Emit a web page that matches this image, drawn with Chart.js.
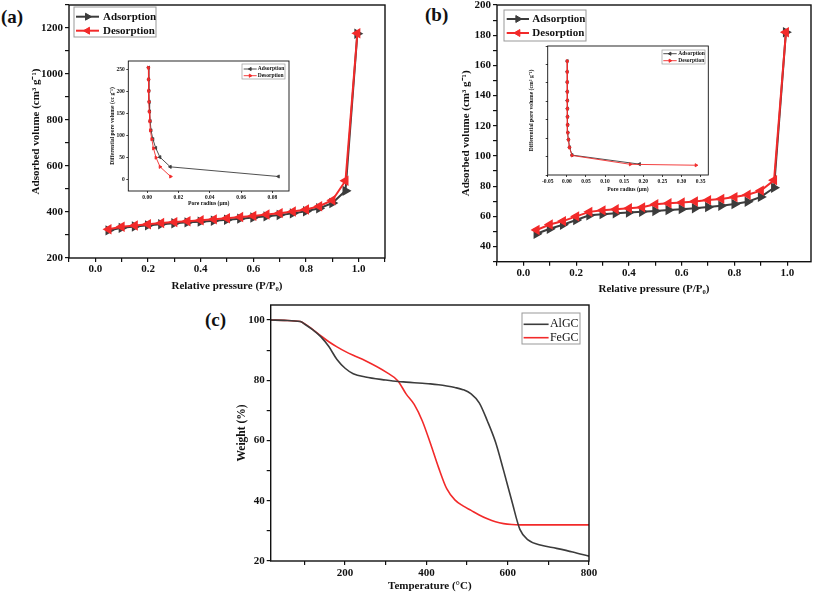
<!DOCTYPE html>
<html>
<head>
<meta charset="utf-8">
<script src="https://cdn.jsdelivr.net/npm/chart.js@4.4.1/dist/chart.umd.min.js"></script>
<style>
  body { margin: 0; background: #fff; width: 817px; height: 593px; position: relative; overflow: hidden; font-family: "Liberation Serif", serif; }
  canvas { position: absolute; }
  .tag { position: absolute; font-weight: bold; font-size: 19px; line-height: 1; color: #111; }
</style>
</head>
<body>
<div class="tag" style="left:1px;top:7px">(a)</div>
<div class="tag" style="left:425px;top:5px">(b)</div>
<div class="tag" style="left:205px;top:310px">(c)</div>

<canvas id="chartA" width="395" height="305" style="left:0;top:-5px"></canvas>
<canvas id="chartB" width="407" height="305" style="left:410px;top:-5px"></canvas>
<canvas id="chartC" width="410" height="298" style="left:190px;top:295px"></canvas>
<canvas id="insetA" width="196" height="162" style="left:100px;top:50px"></canvas>
<canvas id="insetB" width="197" height="160" style="left:518px;top:36px"></canvas>

<script>
// Data: N2 isotherms, panels (a) and (b)
const relPressure = [0.05, 0.10, 0.15, 0.20, 0.25, 0.30, 0.35, 0.40, 0.45, 0.50, 0.55, 0.60, 0.65, 0.70, 0.75, 0.80, 0.85, 0.90, 0.95, 0.995];
const adsorptionA = [320, 331, 337, 342, 347, 351, 355, 358, 362, 366, 371, 376, 381, 387, 394, 403, 416, 439, 492, 1175];
const desorptionA = [325, 336, 341, 347, 352, 356, 360, 364, 368, 373, 378, 383, 389, 395, 402, 411, 425, 451, 536, 1177];
const adsorptionB = [48.5, 51.8, 54.5, 57.6, 60.7, 61.5, 62.1, 62.6, 63.1, 63.6, 64.2, 64.8, 65.4, 66.2, 67.1, 68.2, 69.7, 72.9, 79.0, 182];
const desorptionB = [51.0, 54.6, 56.9, 60.0, 63.0, 64.0, 64.7, 65.4, 66.0, 68.0, 68.7, 69.2, 69.9, 70.8, 71.6, 72.8, 74.3, 77.1, 84.0, 182];

// Data: pore size distribution insets
const poreAdsRadiusA = [0.0009, 0.0010, 0.0012, 0.0014, 0.0016, 0.0020, 0.0025, 0.0037, 0.0055, 0.0082, 0.0148, 0.0838];
const poreAdsVolumeA = [255, 228, 202, 177, 155, 133, 112, 92, 72, 51, 29, 7];
const poreDesRadiusA = [0.0008, 0.0009, 0.0010, 0.0012, 0.0014, 0.0017, 0.0021, 0.0030, 0.0041, 0.0057, 0.0083, 0.0150];
const poreDesVolumeA = [255, 228, 202, 177, 155, 133, 112, 92, 71, 50, 29, 7];
const poreAdsRadiusB = [0.0011, 0.0011, 0.0012, 0.0013, 0.0014, 0.0016, 0.0019, 0.0022, 0.0027, 0.0043, 0.0070, 0.0137, 0.190];
const poreAdsVolumeB = [284, 255, 227, 201, 177, 155, 133, 111, 90, 71, 50, 29, 4.5];
const poreDesRadiusB = [0.0010, 0.0010, 0.0011, 0.0012, 0.0013, 0.0015, 0.0018, 0.0021, 0.0026, 0.0042, 0.0069, 0.0135, 0.166, 0.338];
const poreDesVolumeB = [284, 255, 227, 201, 177, 155, 133, 111, 90, 71, 50, 28, 4, 1.5];

// Data: TGA, panel (c)
const temperature = [17, 50, 90, 100, 120, 140, 160, 180, 200, 220, 250, 300, 330, 350, 370, 390, 410, 430, 450, 470, 490, 510, 530, 550, 570, 590, 610, 630, 650, 680, 720, 760, 800];
const weightAlGC = [100, 99.9, 99.5, 98.7, 96.8, 94.5, 91.2, 86.9, 84.0, 82.2, 81.1, 80.1, 79.6, 79.4, 79.2, 79.0, 78.8, 78.5, 78.1, 77.6, 76.9, 75.5, 72.5, 66.5, 59.5, 50.0, 40.0, 30.5, 27.0, 25.3, 24.2, 23.0, 21.6];
const weightFeGC = [100, 99.9, 99.5, 98.8, 96.9, 94.8, 92.8, 91.1, 89.6, 88.3, 86.5, 82.8, 79.8, 75.5, 72.0, 66.5, 59.0, 51.0, 44.0, 40.3, 38.3, 36.8, 35.3, 34.0, 33.0, 32.4, 32.1, 32.0, 32.0, 32.0, 32.0, 32.0, 32.0];

// Tick labels
const pressureTicks = [0, 0.2, 0.4, 0.6, 0.8, 1.0];
const volumeTicksA = [200, 400, 600, 800, 1000, 1200];
const volumeTicksB = [40, 60, 80, 100, 120, 140, 160, 180, 200];
const radiusTicksA = [0, 0.02, 0.04, 0.06, 0.08];
const poreVolTicksA = [0, 50, 100, 150, 200, 250];
const radiusTicksB = [-0.05, 0, 0.05, 0.10, 0.15, 0.20, 0.25, 0.30, 0.35];
const poreVolTicksB = [0, 50, 100, 150, 200, 250, 300];
const tempTicks = [200, 400, 600, 800];
const weightTicks = [20, 40, 60, 80, 100];

const SERIF = '"Liberation Serif", "Times New Roman", serif';
const INK = '#111';
const GREY = '#3c3c3c';
const RED = '#f22a2a';

// Helpers
function points(xs, ys) {
    return xs.map((x, i) => ({ x: x, y: ys[i] }));
}

function pick(list, digits) {
    return v => {
        const hit = list.find(t => Math.abs(t - v) < 1e-6);
        return hit === undefined ? '' : hit.toFixed(digits);
    };
}

function makeScale(o) {
    return {
        type: 'linear',
        min: o.min,
        max: o.max,
        afterFit: s => { if (s.isHorizontal()) s.height = o.size; else s.width = o.size; },
        border: { display: false },
        grid: { drawOnChartArea: false, drawTicks: true, tickLength: o.tick, lineWidth: o.tickWidth, color: INK },
        ticks: {
            stepSize: o.step, includeBounds: false, autoSkip: false, maxRotation: 0, minRotation: 0,
            padding: o.pad, color: INK,
            font: { family: SERIF, weight: 'bold', size: o.font },
            callback: o.label
        },
        title: {
            display: true, text: o.title, color: INK,
            font: { family: SERIF, weight: 'bold', size: o.titleFont },
            padding: o.titlePad
        }
    };
}

function series(label, data, color, extra) {
    return Object.assign({
        label: label, data: data,
        borderColor: color, backgroundColor: color,
        pointBackgroundColor: color, pointBorderColor: color,
        borderWidth: 2, tension: 0
    }, extra);
}

// Plugins: full box around plot area, and framed legend
const frame = {
    id: 'frame',
    afterDatasetsDraw(chart, args, o) {
        const { ctx, chartArea: a } = chart;
        ctx.save();
        ctx.strokeStyle = INK;
        ctx.lineWidth = o.width || 1;
        ctx.strokeRect(a.left, a.top, a.right - a.left, a.bottom - a.top);
        ctx.restore();
    }
};

const boxLegend = {
    id: 'boxLegend',
    afterDraw(chart, args, o) {
        if (!o.rows) return;
        const { ctx, chartArea: a } = chart;
        const left = o.right !== undefined ? a.right - o.right - o.width : a.left + o.left;
        const top = a.top + o.top;
        ctx.save();
        ctx.fillStyle = '#fff';
        ctx.fillRect(left, top, o.width, o.height);
        ctx.strokeStyle = o.borderColor;
        ctx.lineWidth = o.borderWidth;
        ctx.strokeRect(left, top, o.width, o.height);
        chart.data.datasets.forEach((ds, i) => {
            const y = top + o.rows[i];
            const x0 = left + o.lineX;
            ctx.strokeStyle = ds.borderColor;
            ctx.lineWidth = ds.borderWidth;
            ctx.beginPath();
            ctx.moveTo(x0, y);
            ctx.lineTo(x0 + o.lineLen, y);
            ctx.stroke();
            if (ds.pointRadius) {
                ctx.fillStyle = ds.pointBackgroundColor;
                ctx.strokeStyle = ds.pointBorderColor;
                ctx.lineWidth = 1;
                Chart.helpers.drawPoint(ctx, { pointStyle: ds.pointStyle, rotation: ds.pointRotation, radius: ds.pointRadius, borderWidth: 1 }, x0 + o.lineLen / 2, y);
            }
            ctx.fillStyle = INK;
            ctx.font = o.font;
            ctx.textBaseline = 'middle';
            ctx.textAlign = o.align || 'left';
            ctx.fillText(ds.label, left + o.textX, y);
        });
        ctx.restore();
    }
};

Chart.register(frame, boxLegend);

function baseOptions(padding, scales, legend, frameWidth) {
    return {
        responsive: false,
        animation: false,
        layout: { padding: padding },
        scales: scales,
        plugins: {
            legend: { display: false },
            tooltip: { enabled: false },
            frame: { width: frameWidth },
            boxLegend: legend
        }
    };
}

// Panel (a)
new Chart(document.getElementById('chartA'), {
    type: 'line',
    data: {
        datasets: [
            series('Adsorption', points(relPressure, adsorptionA), GREY, { pointStyle: 'triangle', pointRotation: 90, pointRadius: 4, pointHoverRadius: 4, order: 1 }),
            series('Desorption', points(relPressure, desorptionA), RED, { pointStyle: 'triangle', pointRotation: -90, pointRadius: 4, pointHoverRadius: 4, order: 0 })
        ]
    },
    options: baseOptions(
        { left: 25.5, top: 10, right: 10, bottom: 3 },
        {
            x: makeScale({ min: -0.1, max: 1.1, step: 0.1, size: 39, tick: 4, tickWidth: 1.2, pad: 1, font: 11, label: pick(pressureTicks, 1), title: 'Relative pressure (P/P\u2080)', titleFont: 11, titlePad: { top: 4, bottom: 4 } }),
            y: makeScale({ min: 200, max: 1300, step: 100, size: 43.5, tick: 4, tickWidth: 1.2, pad: 2, font: 11, label: pick(volumeTicksA, 0), title: 'Adsorbed volume (cm\u00b3 g\u207b\u00b9)', titleFont: 11, titlePad: { top: 4, bottom: 4 } })
        },
        { left: 5, top: 2, width: 82, height: 30, rows: [9.7, 23.7], lineX: 2, lineLen: 23, textX: 29, font: 'bold 11px ' + SERIF, borderColor: '#999', borderWidth: 1 },
        1.4
    )
});

// Panel (b)
new Chart(document.getElementById('chartB'), {
    type: 'line',
    data: {
        datasets: [
            series('Adsorption', points(relPressure, adsorptionB), GREY, { pointStyle: 'triangle', pointRotation: 90, pointRadius: 4, pointHoverRadius: 4, order: 1 }),
            series('Desorption', points(relPressure, desorptionB), RED, { pointStyle: 'triangle', pointRotation: -90, pointRadius: 4, pointHoverRadius: 4, order: 0 })
        ]
    },
    options: baseOptions(
        { left: 46, top: 10, right: 3, bottom: 0.5 },
        {
            x: makeScale({ min: -0.1, max: 1.09, step: 0.1, size: 37.8, tick: 4, tickWidth: 1.2, pad: 1, font: 11, label: pick(pressureTicks, 1), title: 'Relative pressure (P/P\u2080)', titleFont: 11, titlePad: { top: 4, bottom: 4 } }),
            y: makeScale({ min: 30, max: 200, step: 10, size: 41, tick: 4, tickWidth: 1.2, pad: 2, font: 11, label: pick(volumeTicksB, 0), title: 'Adsorbed volume (cm\u00b3 g\u207b\u00b9)', titleFont: 11, titlePad: { top: 4, bottom: 4 } })
        },
        { left: 7, top: 5, width: 82, height: 31, rows: [9, 23], lineX: 2.7, lineLen: 22.3, textX: 28.3, font: 'bold 11px ' + SERIF, borderColor: '#999', borderWidth: 1 },
        1.4
    )
});

// Panel (c)
new Chart(document.getElementById('chartC'), {
    type: 'line',
    data: {
        datasets: [
            series('AlGC', points(temperature, weightAlGC), GREY, { pointRadius: 0, borderWidth: 1.6, cubicInterpolationMode: 'monotone' }),
            series('FeGC', points(temperature, weightFeGC), RED, { pointRadius: 0, borderWidth: 1.6, cubicInterpolationMode: 'monotone' })
        ]
    },
    options: baseOptions(
        { left: 41, top: 10, right: 11, bottom: 0 },
        {
            x: makeScale({ min: 17, max: 800, step: 100, size: 32, tick: 4, tickWidth: 1.2, pad: 2, font: 11, label: pick(tempTicks, 0), title: 'Temperature (\u00b0C)', titleFont: 11, titlePad: { top: 0, bottom: 0 } }),
            y: makeScale({ min: 20, max: 105, step: 10, size: 39.7, tick: 4, tickWidth: 1.2, pad: 2, font: 11, label: pick(weightTicks, 0), title: 'Weight (%)', titleFont: 11.5, titlePad: { top: 4, bottom: 4 } })
        },
        { right: 9, top: 8, width: 58, height: 31, rows: [11.3, 24.7], lineX: 1.6, lineLen: 25, textX: 56.6, align: 'right', font: '12px ' + SERIF, borderColor: '#999', borderWidth: 1 },
        1.4
    )
});

// Inset of (a)
new Chart(document.getElementById('insetA'), {
    type: 'line',
    data: {
        datasets: [
            series('Adsorption', points(poreAdsRadiusA, poreAdsVolumeA), GREY, { borderWidth: 0.9, pointStyle: 'triangle', pointRotation: -90, pointRadius: 1.8, order: 1 }),
            series('Desorption', points(poreDesRadiusA, poreDesVolumeA), RED, { borderWidth: 0.9, pointStyle: 'triangle', pointRotation: 90, pointRadius: 1.8, order: 0 })
        ]
    },
    options: baseOptions(
        { left: 7.7, top: 11, right: 7, bottom: 3.7 },
        {
            x: makeScale({ min: -0.012, max: 0.0906, step: 0.02, size: 17.3, tick: 2, tickWidth: 0.8, pad: 1.5, font: 5.5, label: pick(radiusTicksA, 2), title: 'Pore radius (\u03bcm)', titleFont: 5.7, titlePad: { top: 1, bottom: 1 } }),
            y: makeScale({ min: -26, max: 270, step: 50, size: 20.6, tick: 2, tickWidth: 0.8, pad: 1.5, font: 5.5, label: pick(poreVolTicksA, 0), title: 'Differential pore volume (cc g\u207b\u00b9)', titleFont: 5.7, titlePad: { top: 1, bottom: 1 } })
        },
        { left: 113.7, top: 3, width: 43, height: 15, rows: [5, 11.7], lineX: 1.7, lineLen: 13, textX: 15.7, font: 'bold 5.5px ' + SERIF, borderColor: '#999', borderWidth: 0.7 },
        0.9
    )
});

// Inset of (b)
new Chart(document.getElementById('insetB'), {
    type: 'line',
    data: {
        datasets: [
            series('Adsorption', points(poreAdsRadiusB, poreAdsVolumeB), GREY, { borderWidth: 0.9, pointStyle: 'triangle', pointRotation: -90, pointRadius: 1.8, order: 1 }),
            series('Desorption', points(poreDesRadiusB, poreDesVolumeB), RED, { borderWidth: 0.9, pointStyle: 'triangle', pointRotation: 90, pointRadius: 1.8, order: 0 })
        ]
    },
    options: baseOptions(
        { left: 9.1, top: 10, right: 6.7, bottom: 2.4 },
        {
            x: makeScale({ min: -0.05, max: 0.37, step: 0.05, size: 18.6, tick: 2, tickWidth: 0.8, pad: 1.5, font: 5.5, label: pick(radiusTicksB, 2), title: 'Pore radius (\u03bcm)', titleFont: 5.7, titlePad: { top: 1, bottom: 1 } }),
            y: makeScale({ min: -25, max: 325, step: 50, size: 20.6, tick: 2, tickWidth: 0.8, pad: 1.5, font: 5.5, label: pick(poreVolTicksB, 0), title: 'Differential pore volume (cm\u00b3 g\u207b\u00b9)', titleFont: 5.7, titlePad: { top: 1, bottom: 1 } })
        },
        { left: 114.3, top: 4, width: 43, height: 14, rows: [3.7, 10.7], lineX: 1.3, lineLen: 13.4, textX: 16.3, font: 'bold 5.5px ' + SERIF, borderColor: '#999', borderWidth: 0.7 },
        0.9
    )
});
</script>
</body>
</html>
